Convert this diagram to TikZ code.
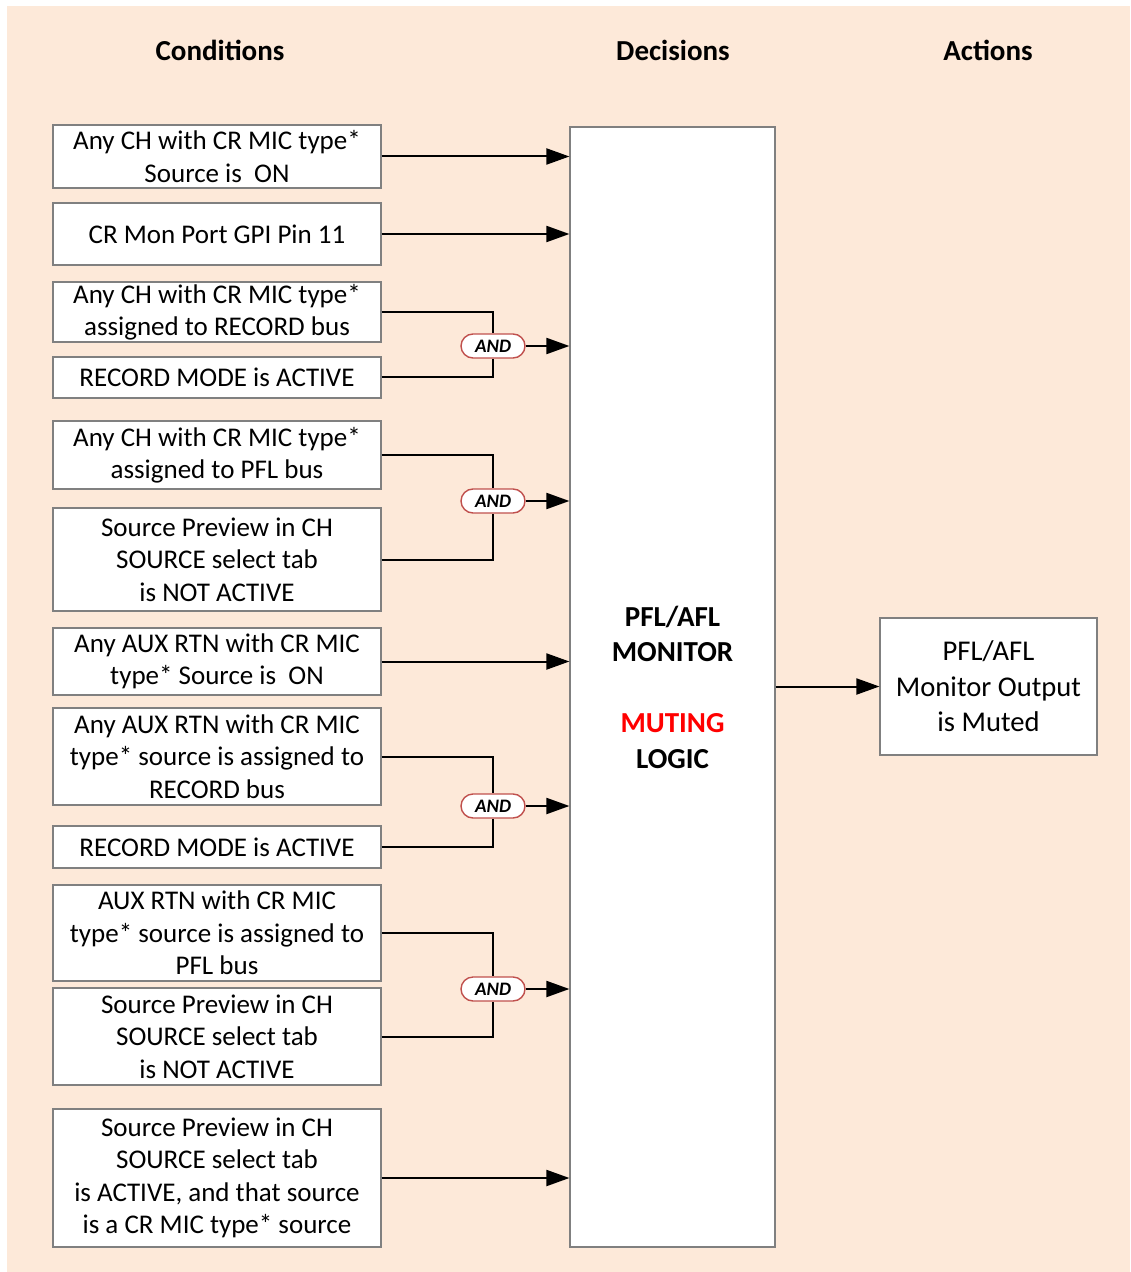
\documentclass[tikz,border=0pt]{standalone}
\usepackage{fontspec}
\setmainfont{Carlito}
\usetikzlibrary{arrows.meta}
\definecolor{backgroundColor}{RGB}{253,233,217}
\definecolor{boxBorderColor}{RGB}{128,128,128}
\definecolor{andBorderColor}{RGB}{192,80,77}
\definecolor{mutingColor}{RGB}{255,0,0}

\begin{document}
\begin{tikzpicture}[
        x=0.5pt, y=-0.5pt,
        condition/.style={
                draw=boxBorderColor,
                fill=white,
                line width=0.6pt,
                minimum width=164pt,
                inner sep=0pt,
                align=center,
                font=\fontsize{13.5}{16.25}\selectfont
            },
        header/.style={
                font=\bfseries\fontsize{14.5}{17.5}\selectfont
            },
        andgate/.style={
                draw=andBorderColor,
                fill=white,
                line width=0.7pt,
                rounded corners=6pt,
                minimum width=32pt,
                minimum height=12pt,
                inner sep=0pt,
                font=\bfseries\itshape\fontsize{9.5}{10}\selectfont
            },
        wire/.style={line width=1pt},
        arrow/.style={line width=1pt, -{Triangle[length=11.5pt, width=8pt]}}
    ]

    % ---- Background ----
    \fill[white] (0,0) rectangle (1130,1272);
    \fill[backgroundColor] (7,6) rectangle (1130,1272);
    \useasboundingbox (0,0) rectangle (1130,1272);

    % ---- Column headers ----
    \node[header] (hcond) at (220,50) {Conditions};
    \node[header] (hdec) at (673,50) {Decisions};
    \node[header] (hact) at (988,50) {Actions};

    % ---- Decision and action ----
    \node[condition, minimum width=102.5pt, minimum height=560pt,
        font=\bfseries\fontsize{14.5}{17.75}\selectfont] (logic) at (672.5,687)
    {PFL/AFL\\MONITOR\\[17.75pt]\textcolor{mutingColor}{MUTING}\\LOGIC};
    \node[condition, minimum width=108.5pt, minimum height=68.5pt,
        font=\fontsize{14.3}{17.75}\selectfont] (out) at (988.5,686.5)
    {PFL/AFL\\Monitor Output\\is Muted};

    % ---- Conditions ----
    \node[condition, minimum height=31.5pt] (c1) at (217,156.5) {Any CH with CR MIC type*\\Source is\ \ ON};
    \node[condition, minimum height=31pt] (c2) at (217,234) {CR Mon Port GPI Pin 11};
    \node[condition, minimum height=30pt] (c3) at (217,312) {Any CH with CR MIC type*\\assigned to RECORD bus};
    \node[condition, minimum height=20.5pt] (c4) at (217,377.5) {RECORD MODE is ACTIVE};
    \node[condition, minimum height=34pt] (c5) at (217,455) {Any CH with CR MIC type*\\assigned to PFL bus};
    \node[condition, minimum height=51.5pt] (c6) at (217,559.5) {Source Preview in CH\\SOURCE select tab\\is NOT ACTIVE};
    \node[condition, minimum height=33.5pt] (c7) at (217,661.5) {Any AUX RTN with CR MIC\\type* Source is\ \ ON};
    \node[condition, minimum height=48.5pt] (c8) at (217,756.5) {Any AUX RTN with CR MIC\\type* source is assigned to\\RECORD bus};
    \node[condition, minimum height=21pt] (c9) at (217,847) {RECORD MODE is ACTIVE};
    \node[condition, minimum height=48pt] (c10) at (217,933) {AUX RTN with CR MIC\\type* source is assigned to\\PFL bus};
    \node[condition, minimum height=48.5pt] (c11) at (217,1036.5) {Source Preview in CH\\SOURCE select tab\\is NOT ACTIVE};
    \node[condition, minimum height=69pt] (c12) at (217,1178) {Source Preview in CH\\SOURCE select tab\\is ACTIVE, and that source\\is a CR MIC type* source};

    % ---- AND gates ----
    \node[andgate] (g1) at (493,346) {AND};
    \node[andgate] (g2) at (493,501) {AND};
    \node[andgate] (g3) at (493,806) {AND};
    \node[andgate] (g4) at (493,989) {AND};

    % wires into the gates
    \draw[wire] (c3.east) -| (g1.north);
    \draw[wire] (c4.east) -| (g1.south);
    \draw[wire] (c5.east) -| (g2.north);
    \draw[wire] (c6.east) -| (g2.south);
    \draw[wire] (c8.east) -| (g3.north);
    \draw[wire] (c9.east) -| (g3.south);
    \draw[wire] (c10.east) -| (g4.north);
    \draw[wire] (c11.east) -| (g4.south);

    % ---- Arrows into the logic ----
    \draw[arrow] (c1.east) -- (c1.east -| logic.west);
    \draw[arrow] (c2.east) -- (c2.east -| logic.west);
    \draw[arrow] (g1.east) -- (g1.east -| logic.west);
    \draw[arrow] (g2.east) -- (g2.east -| logic.west);
    \draw[arrow] (c7.east) -- (c7.east -| logic.west);
    \draw[arrow] (g3.east) -- (g3.east -| logic.west);
    \draw[arrow] (g4.east) -- (g4.east -| logic.west);
    \draw[arrow] (c12.east) -- (c12.east -| logic.west);

    % ---- Arrow to the action ----
    \draw[arrow] (logic.east |- out.west) -- (out.west);
\end{tikzpicture}
\end{document}
